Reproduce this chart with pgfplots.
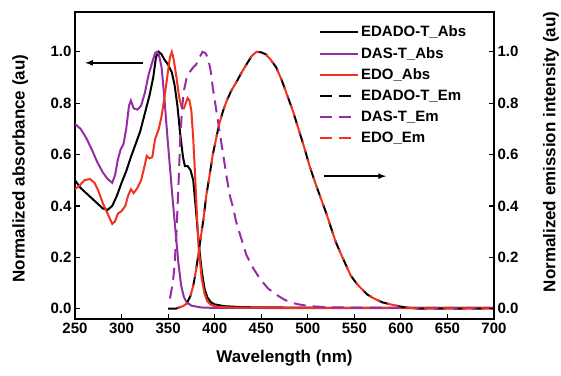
\documentclass[border=0pt]{standalone}
\usepackage{fontspec}
\setmainfont{Liberation Sans}
\usepackage{pgfplots}
\pgfplotsset{compat=1.18}
\definecolor{cpur}{RGB}{150,45,165}
\definecolor{cred}{RGB}{240,50,30}
\begin{document}
\begin{tikzpicture}[x=1pt,y=1pt]
\pgfplotsset{
  myaxis/.style={
    at={(75pt,56pt)}, anchor=south west,
    scale only axis, width=419pt, height=307pt,
    xmin=250, xmax=700, ymin=-0.04, ymax=1.155,
    tick align=inside, major tick length=5pt,
    every tick/.style={black, line width=1.2pt},
    axis line style={line width=1.4pt},
    /pgf/number format/assume math mode=true,
    /pgf/number format/.cd, fixed, fixed zerofill, precision=1, /pgfplots/.cd,
    tick label style={font=\bfseries\fontsize{15}{15}\selectfont},
    label style={font=\bfseries\fontsize{17}{17}\selectfont},
  }
}
\begin{axis}[myaxis,
  xtick={250,300,...,700}, xtick pos=bottom,
  ytick={0,0.2,...,1.0}, ytick pos=left,
  xticklabel style={/pgf/number format/precision=0, /pgf/number format/fixed zerofill=false, /pgf/number format/set thousands separator={}},
  xlabel={Wavelength (nm)},
  ylabel={Normalized absorbance (au)},
  xlabel style={at={(axis description cs:0.5,-0.127)}, anchor=center},
  ylabel style={at={(axis description cs:-0.131,0.49)}, anchor=center},
  legend style={draw=none, fill=none, at={(axis description cs:0.575,0.968)}, anchor=north west,
    font=\bfseries\fontsize{15}{15}\selectfont, row sep=5pt,
    legend cell align=left},
  legend image code/.code={\draw[#1] (0pt,0pt) -- (38pt,0pt);},
]
\addplot[black, line width=2pt] coordinates {
(250,0.50)(256,0.47)(262,0.45)(268,0.43)(274,0.41)(280,0.39)(285,0.385)(290,0.40)
(295,0.44)(300,0.49)(305,0.535)(310,0.59)(315,0.64)(320,0.69)(325,0.76)(330,0.83)
(334,0.90)(337,0.98)(340,1.00)(343,0.99)(346,0.97)(350,0.95)(354,0.92)(357,0.87)
(360,0.79)(363,0.68)(366,0.59)(368,0.555)(371,0.555)(374,0.54)(377,0.50)(380,0.38)
(383,0.25)(386,0.15)(389,0.08)(392,0.045)(396,0.025)(400,0.017)(410,0.01)(430,0.006)
(500,0.004)(600,0.003)(700,0.003)};
\addlegendentry{EDADO-T\_Abs}
\addplot[cpur, line width=2pt] coordinates {
(250,0.72)(256,0.70)(262,0.665)(268,0.62)(274,0.57)(280,0.53)(285,0.505)(290,0.49)
(293,0.52)(296,0.58)(299,0.62)(302,0.64)(305,0.70)(308,0.79)(310,0.81)(313,0.78)
(317,0.775)(321,0.79)(325,0.84)(329,0.91)(333,0.96)(336,0.995)(338,1.00)(340,0.99)
(343,0.94)(346,0.82)(349,0.68)(352,0.55)(355,0.42)(358,0.30)(361,0.18)(364,0.09)
(367,0.045)(370,0.025)(375,0.012)(385,0.005)(400,0.003)(700,0.002)};
\addlegendentry{DAS-T\_Abs}
\addplot[cred, line width=2pt] coordinates {
(250,0.465)(255,0.48)(260,0.50)(266,0.505)(271,0.49)(275,0.46)(280,0.41)(285,0.37)
(290,0.33)(293,0.34)(296,0.37)(300,0.38)(304,0.40)(307,0.44)(310,0.465)(313,0.45)
(317,0.47)(321,0.50)(325,0.56)(327,0.595)(330,0.585)(333,0.59)(336,0.66)(340,0.70)
(343,0.75)(346,0.82)(349,0.90)(352,0.98)(354,1.00)(356,0.97)(359,0.90)(362,0.82)
(365,0.78)(367,0.78)(369,0.80)(371,0.82)(373,0.81)(375,0.77)(377,0.66)(379,0.52)
(381,0.36)(383,0.23)(386,0.12)(389,0.06)(392,0.03)(396,0.015)(402,0.008)(420,0.004)
(700,0.003)};
\addlegendentry{EDO\_Abs}
\addplot[black, line width=2pt, dash pattern=on 12pt off 7pt] coordinates {
(350,0.0)(358,0.0)(362,0.005)(366,0.01)(370,0.02)(374,0.05)(377,0.09)(380,0.15)
(384,0.25)(388,0.35)(391,0.44)(395,0.53)(398,0.60)(402,0.67)(405,0.72)(409,0.77)
(413,0.81)(418,0.85)(423,0.88)(429,0.92)(434,0.95)(440,0.985)(445,1.00)(450,0.998)
(455,0.99)(460,0.97)(466,0.94)(472,0.89)(478,0.83)(484,0.77)(490,0.70)(496,0.63)
(502,0.555)(508,0.49)(514,0.43)(520,0.37)(525,0.315)(530,0.26)(536,0.21)(541,0.17)
(546,0.13)(552,0.10)(557,0.08)(564,0.055)(571,0.04)(580,0.025)(590,0.016)(600,0.008)
(610,0.003)(620,0.0)(700,0.0)};
\addlegendentry{EDADO-T\_Em}
\addplot[cpur, line width=2pt, dash pattern=on 12pt off 7pt] coordinates {
(352,0.04)(355,0.10)(357,0.17)(359,0.30)(361,0.47)(363,0.66)(365,0.78)(367,0.85)
(370,0.90)(373,0.92)(377,0.94)(380,0.95)(384,0.98)(387,1.00)(390,0.995)(393,0.975)
(396,0.92)(398,0.86)(401,0.79)(404,0.72)(407,0.65)(410,0.58)(413,0.51)(416,0.445)
(420,0.39)(423,0.34)(428,0.28)(434,0.21)(441,0.16)(448,0.12)(457,0.08)(466,0.055)
(475,0.035)(484,0.022)(493,0.015)(502,0.01)(520,0.006)(560,0.004)(700,0.003)};
\addlegendentry{DAS-T\_Em}
\addplot[cred, line width=2pt, dash pattern=on 12pt off 7pt, dash phase=17pt,
  legend image post style={dash phase=0pt}] coordinates {
(358,0.0)(362,0.005)(366,0.01)(370,0.02)(374,0.05)(377,0.09)(380,0.15)
(384,0.25)(388,0.35)(391,0.44)(395,0.53)(398,0.60)(402,0.67)(405,0.72)(409,0.77)
(413,0.81)(418,0.85)(423,0.88)(429,0.92)(434,0.95)(440,0.985)(445,1.00)(450,0.998)
(455,0.99)(460,0.97)(466,0.94)(472,0.89)(478,0.83)(484,0.77)(490,0.70)(496,0.63)
(502,0.555)(508,0.49)(514,0.43)(520,0.37)(525,0.315)(530,0.26)(536,0.21)(541,0.17)
(546,0.13)(552,0.10)(557,0.08)(564,0.055)(571,0.04)(580,0.025)(590,0.016)(600,0.008)
(610,0.003)(620,0.0)(700,0.0)};
\addlegendentry{EDO\_Em}
\draw[line width=1.6pt, -latex] (axis cs:323,0.957) -- (axis cs:261,0.957);
\draw[line width=1.6pt, -latex] (axis cs:517,0.516) -- (axis cs:584,0.516);
\end{axis}
\begin{axis}[myaxis,
  hide x axis,
  axis y line*=right,
  ytick={0,0.2,...,1.0},
  ylabel={Normalized emission intensity (au)},
  ylabel style={at={(axis description cs:1.136,0.544)}, anchor=center},
]
\addplot[draw=none] coordinates {(250,0)(700,1)};
\end{axis}
\pgfresetboundingbox
\path (0pt,0pt) rectangle (561pt,375pt);
\end{tikzpicture}
\end{document}
